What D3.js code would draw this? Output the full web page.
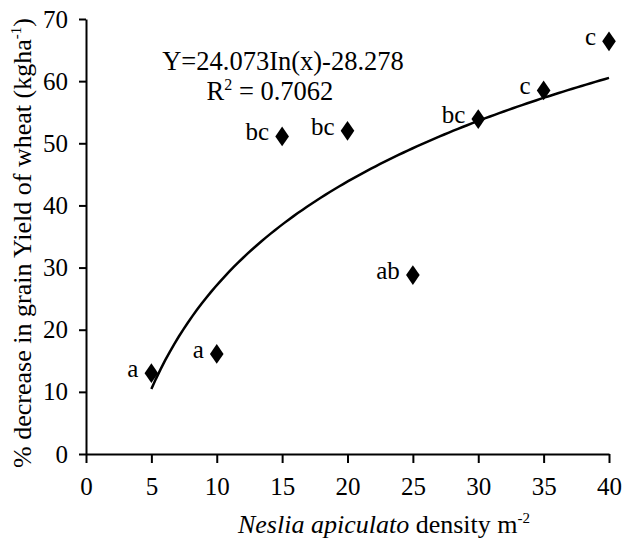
<!DOCTYPE html>
<html>
<head>
<meta charset="utf-8">
<script src="https://d3js.org/d3.v7.min.js"></script>
<style>
  body { margin: 0; background: #fff; }
  text { font-family: "Liberation Serif", "Times New Roman", serif; fill: #000; }
</style>
</head>
<body>
<div id="my_dataviz"></div>
<script>

// data
var density = [5, 10, 15, 20, 25, 30, 35, 40];
var yieldLoss = [13.0, 16.1, 51.1, 52.0, 28.8, 53.9, 58.5, 66.4];
var groupLetters = ["a", "a", "bc", "bc", "ab", "bc", "c", "c"];
var xTicks = [0, 5, 10, 15, 20, 25, 30, 35, 40];
var yTicks = [0, 10, 20, 30, 40, 50, 60, 70];
// fitted curve Y = a ln(x) + b
var fitA = 24.073, fitB = -28.278;
var fitRange = [5, 40];

var width = 626, height = 543;
var margin = {top: 19, right: 17, bottom: 89, left: 86};

var svg = d3.select("#my_dataviz")
  .append("svg")
    .attr("width", width)
    .attr("height", height);

var x = d3.scaleLinear()
    .domain([0, 40])
    .range([margin.left, width - margin.right]);

var y = d3.scaleLinear()
    .domain([0, 70])
    .range([height - margin.bottom, margin.top]);

// X axis
var xAxis = svg.append("g")
    .attr("transform", "translate(0," + y(0) + ")")
    .call(d3.axisBottom(x).tickValues(xTicks).tickSize(9).tickSizeOuter(0).tickPadding(14));

// Y axis
var yAxis = svg.append("g")
    .attr("transform", "translate(" + x(0) + ",0)")
    .call(d3.axisLeft(y).tickValues(yTicks).tickSize(7).tickSizeOuter(0).tickPadding(11));

[xAxis, yAxis].forEach(function(g) {
  g.select(".domain").attr("stroke", "#000").attr("stroke-width", 2);
  g.selectAll(".tick line").attr("stroke", "#000").attr("stroke-width", 2);
  g.selectAll(".tick text")
    .style("font-family", "'Liberation Serif', serif")
    .style("font-size", "25px")
    .attr("fill", "#000");
});

// fitted log curve
var curvePts = d3.range(0, 101).map(function(i) {
  var xv = fitRange[0] + (fitRange[1] - fitRange[0]) * i / 100;
  return [xv, fitA * Math.log(xv) + fitB];
});
svg.append("path")
    .datum(curvePts)
    .attr("fill", "none")
    .attr("stroke", "#000")
    .attr("stroke-width", 2.5)
    .attr("d", d3.line()
      .x(function(d) { return x(d[0]); })
      .y(function(d) { return y(d[1]); }));

// diamonds
var diamond = d3.symbol().type(d3.symbolDiamond).size(112);
var pts = svg.append("g");
density.forEach(function(d, i) {
  pts.append("path")
    .attr("d", diamond())
    .attr("transform", "translate(" + x(d) + "," + y(yieldLoss[i]) + ") scale(1.2,1)")
    .attr("fill", "#000");
  pts.append("text")
    .attr("x", x(d) - 13)
    .attr("y", y(yieldLoss[i]) + 4)
    .attr("text-anchor", "end")
    .style("font-size", "25px")
    .text(groupLetters[i]);
});

// equation
svg.append("text")
    .attr("x", 283).attr("y", 70)
    .attr("text-anchor", "middle")
    .style("font-size", "26.5px")
    .text("Y=24.073In(x)-28.278");

var r2 = svg.append("text")
    .attr("x", 270).attr("y", 100)
    .attr("text-anchor", "middle")
    .style("font-size", "26.5px");
r2.append("tspan").text("R");
r2.append("tspan").attr("dy", -10).style("font-size", "16px").text("2");
r2.append("tspan").attr("dy", 10).text(" = 0.7062");

// y axis title
var yt = svg.append("text")
    .attr("transform", "translate(31," + 243 + ") rotate(-90)")
    .attr("text-anchor", "middle")
    .style("font-size", "26px");
yt.append("tspan").text("% decrease in grain Yield of wheat (kgha");
yt.append("tspan").attr("dy", -10).style("font-size", "15px").text("-1");
yt.append("tspan").attr("dy", 10).text(")");

// x axis title
var xt = svg.append("text")
    .attr("x", 384).attr("y", 533)
    .attr("text-anchor", "middle")
    .style("font-size", "26px");
xt.append("tspan").style("font-style", "italic").text("Neslia apiculato");
xt.append("tspan").text(" density m");
xt.append("tspan").attr("dy", -10).style("font-size", "15px").text("-2");

</script>
</body>
</html>
